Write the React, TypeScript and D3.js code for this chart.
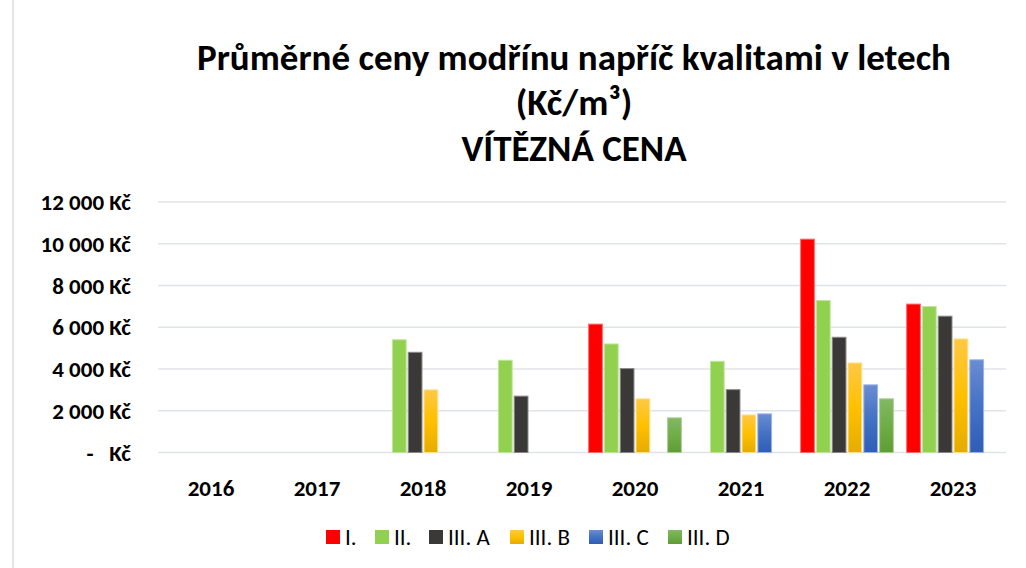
import React from 'react';
import * as d3 from 'd3';

const years = ['2016', '2017', '2018', '2019', '2020', '2021', '2022', '2023'];
const seriesNames = ['I.', 'II.', 'III. A', 'III. B', 'III. C', 'III. D'];
const valI = [null, null, null, null, 6150, null, 10220, 7110];
const valII = [null, null, 5400, 4420, 5200, 4370, 7280, 6990];
const valIIIA = [null, null, 4800, 2700, 4020, 3010, 5520, 6530];
const valIIIB = [null, null, 3000, null, 2570, 1800, 4290, 5440];
const valIIIC = [null, null, null, null, null, 1850, 3240, 4440];
const valIIID = [null, null, null, null, 1660, null, 2570, null];
const yTicks = [0, 2000, 4000, 6000, 8000, 10000, 12000];

const seriesValues = [valI, valII, valIIIA, valIIIB, valIIIC, valIIID];
const fills = ['#FF0000', '#92D050', '#3B3838', 'url(#gB)', 'url(#gC)', 'url(#gD)'];
const strokes = ['#ff6b6b', '#bfe59a', '#8a8888', '#ffe08a', '#9cb3e3', '#a9cf93'];

const W = 1026;
const H = 568;
const left = 158;
const right = 1006;
const top = 202;
const bottom = 452.5;

const fmt = (v: number) => d3.format(',')(v).replace(/,/g, ' ') + ' Kč';

const App = () => {
	const x = d3.scaleBand().domain(years).range([left, right]).paddingInner(0).paddingOuter(0);
	const inner = d3.scaleBand().domain(seriesNames).range([0, x.bandwidth()]).paddingOuter(0.42).paddingInner(0.13);
	const y = d3.scaleLinear().domain([0, 12000]).range([bottom, top]);

	const legendX = [326, 375, 429, 510, 589, 668];

	return (
		<svg width={W} height={H} style={{ position: 'absolute', left: 0, top: 0 }} fontFamily="Carlito, 'Liberation Sans', Arial, sans-serif">
			<defs>
				<linearGradient id="gB" x1="0" y1="0" x2="0" y2="1">
					<stop offset="0" stopColor="#FFC845" />
					<stop offset="0.5" stopColor="#FFC000" />
					<stop offset="1" stopColor="#E5AC00" />
				</linearGradient>
				<linearGradient id="gC" x1="0" y1="0" x2="0" y2="1">
					<stop offset="0" stopColor="#6A8CD3" />
					<stop offset="0.5" stopColor="#4472C4" />
					<stop offset="1" stopColor="#2F5DB8" />
				</linearGradient>
				<linearGradient id="gD" x1="0" y1="0" x2="0" y2="1">
					<stop offset="0" stopColor="#82B863" />
					<stop offset="0.5" stopColor="#70AD47" />
					<stop offset="1" stopColor="#5E9C36" />
				</linearGradient>
			</defs>
			<rect x={13} y={-2} width={1030} height={H + 4} fill="#fff" stroke="#dadde3" strokeWidth={1.5} />
			<g fontWeight="bold" fill="#000" textAnchor="middle">
				<text x={574} y={70} fontSize={37}>Průměrné ceny modřínu napříč kvalitami v letech</text>
				<text x={574} y={115} fontSize={37}>(Kč/m³)</text>
				<text x={574} y={161} fontSize={37}>VÍTĚZNÁ CENA</text>
			</g>
			{yTicks.map((t) => (
				<g key={t}>
					<line x1={left} x2={right} y1={y(t)} y2={y(t)} stroke="#e0e3e8" strokeWidth={1.5} />
					{t === 0 ? (
						<g fontSize={23} fontWeight="bold" fill="#000">
							<text x={90} y={y(t) + 8} textAnchor="middle">-</text>
							<text x={131} y={y(t) + 8} textAnchor="end">Kč</text>
						</g>
					) : (
						<text x={131} y={y(t) + 8} textAnchor="end" fontSize={23} fontWeight="bold" fill="#000">{fmt(t)}</text>
					)}
				</g>
			))}
			{years.map((yr) => (
				<text key={yr} x={(x(yr) as number) + x.bandwidth() / 2} y={496} textAnchor="middle" fontSize={23} fontWeight="bold" fill="#000">{yr}</text>
			))}
			{seriesValues.map((vals, si) => (
				<g key={si}>
					{vals.map((v, i) =>
						v == null ? null : (
							<rect
								key={i}
								x={(x(years[i]) as number) + (inner(seriesNames[si]) as number)}
								y={y(v)}
								width={inner.bandwidth()}
								height={bottom - y(v)}
								fill={fills[si]}
								stroke={strokes[si]}
								strokeWidth={1}
							/>
						)
					)}
				</g>
			))}
			<g>
				{seriesNames.map((s, i) => (
					<g key={s}>
						<rect x={legendX[i]} y={530} width={14} height={14} fill={fills[i]} />
						<text x={legendX[i] + 19} y={545} fontSize={23} fill="#000">{s}</text>
					</g>
				))}
			</g>
		</svg>
	);
};

export default App;
